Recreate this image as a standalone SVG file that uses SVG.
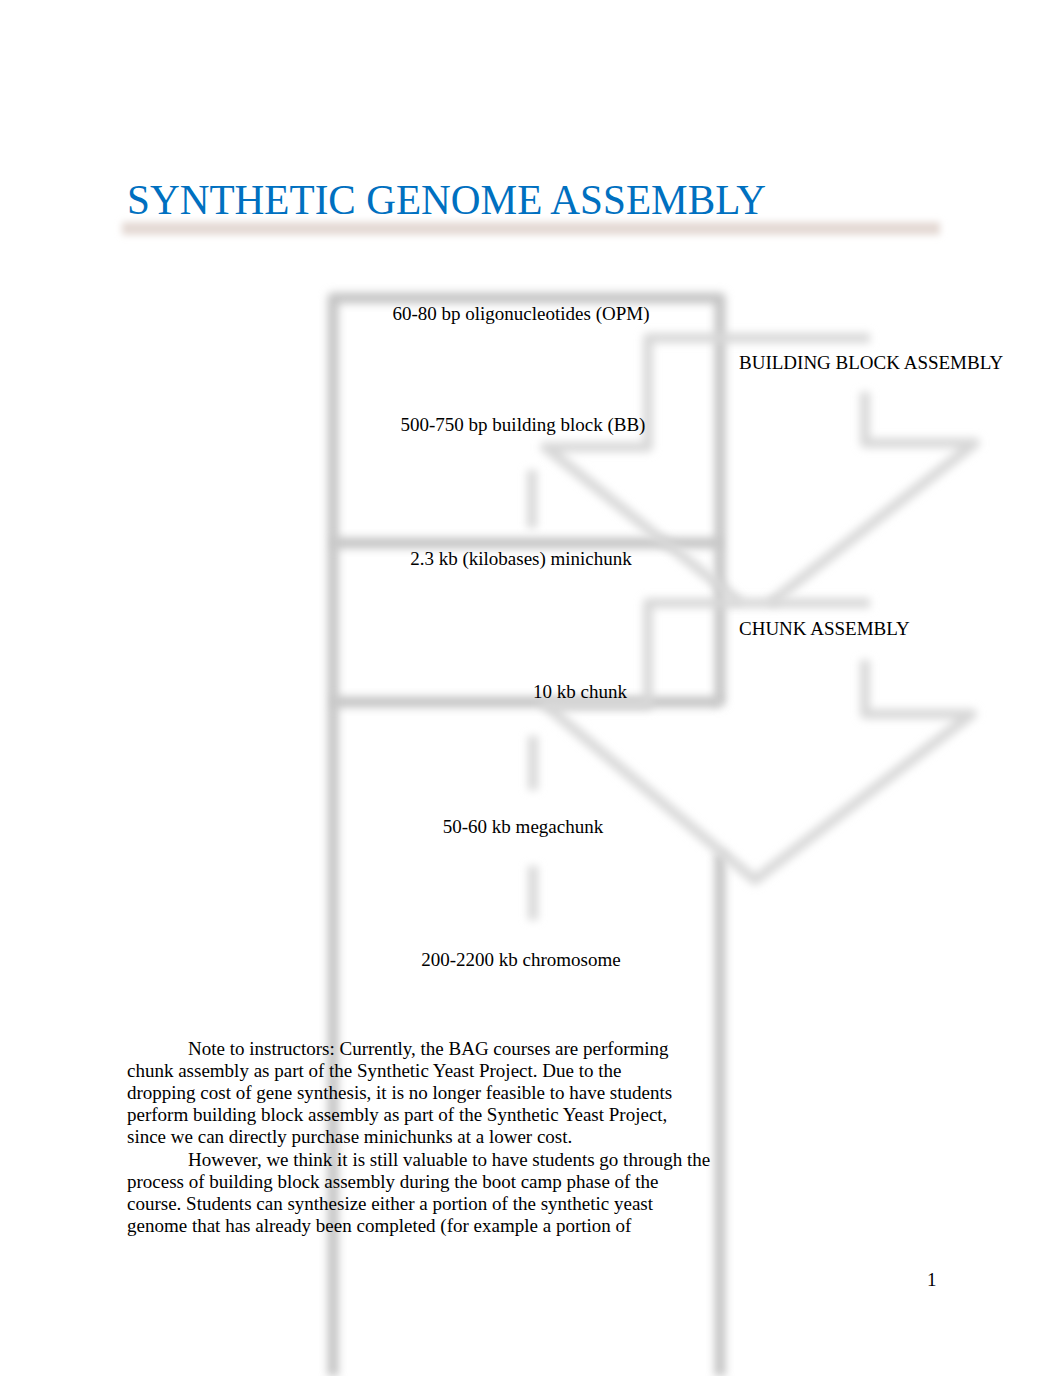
<svg xmlns="http://www.w3.org/2000/svg" width="1062" height="1376" viewBox="0 0 1062 1376">
<defs>
<filter id="blur" filterUnits="userSpaceOnUse" x="0" y="0" width="1062" height="1376"><feGaussianBlur stdDeviation="4"/></filter>
<filter id="blurBar" filterUnits="userSpaceOnUse" x="0" y="150" width="1062" height="150"><feGaussianBlur stdDeviation="3.5"/></filter>
<style>
.sh{fill:none;stroke:#c4c4c4;stroke-width:11;stroke-linejoin:round;stroke-linecap:butt;filter:url(#blur)}
.shl{fill:none;stroke:#d8d8d8;stroke-width:10;stroke-linejoin:round;filter:url(#blur)}
.t{font-family:"Liberation Serif","Times New Roman",serif;font-size:19px;fill:#000}
.title{font-family:"Liberation Serif","Times New Roman",serif;font-size:42px;fill:#0070C0}
</style>
</defs>
<rect width="1062" height="1376" fill="#fff"/>
<rect x="122" y="222" width="818" height="13" fill="#e4d9d4" filter="url(#blurBar)"/>
<text class="title" x="127" y="214" textLength="639" lengthAdjust="spacingAndGlyphs">SYNTHETIC GENOME ASSEMBLY</text>

<g id="frame">
<path class="sh" d="M333 1376 V298 H720 V705"/>
<path class="sh" d="M333 543 H720"/>
<path class="sh" d="M333 702 H720"/>
<path class="sh" d="M720 853 V1376"/>
</g>

<g id="bb-assembly-arrow">
<path class="shl" d="M870 338 H648 V447 H545 L740 602"/>
<path class="shl" d="M865 392 V443 H975 L770 603"/>
</g>
<g id="chunk-assembly-arrow">
<path class="shl" d="M870 603 H648 V705 H545 L755 880 L972 714 H865 V660"/>
</g>

<g id="connectors">
<path class="shl" d="M532 470 V528"/>
<path class="shl" d="M533 736 V790"/>
<path class="shl" d="M533 866 V920"/>
</g>

<g id="node-opm"><text class="t" x="521" y="320" text-anchor="middle">60-80 bp oligonucleotides (OPM)</text></g>
<g id="node-bb"><text class="t" x="523" y="431" text-anchor="middle">500-750 bp building block (BB)</text></g>
<g id="node-minichunk"><text class="t" x="521" y="565" text-anchor="middle">2.3 kb (kilobases) minichunk</text></g>
<g id="node-chunk"><text class="t" x="580" y="698" text-anchor="middle">10 kb chunk</text></g>
<g id="node-megachunk"><text class="t" x="523" y="833" text-anchor="middle">50-60 kb megachunk</text></g>
<g id="node-chromosome"><text class="t" x="521" y="966" text-anchor="middle">200-2200 kb chromosome</text></g>
<g id="label-bb-assembly"><text class="t" x="739" y="369">BUILDING BLOCK ASSEMBLY</text></g>
<g id="label-chunk-assembly"><text class="t" x="739" y="635">CHUNK ASSEMBLY</text></g>

<g id="note">
<text class="t" x="188" y="1055">Note to instructors: Currently, the BAG courses are performing</text>
<text class="t" x="127" y="1077">chunk assembly as part of the Synthetic Yeast Project. Due to the</text>
<text class="t" x="127" y="1099">dropping cost of gene synthesis, it is no longer feasible to have students</text>
<text class="t" x="127" y="1121">perform building block assembly as part of the Synthetic Yeast Project,</text>
<text class="t" x="127" y="1143">since we can directly purchase minichunks at a lower cost.</text>
<text class="t" x="188" y="1166">However, we think it is still valuable to have students go through the</text>
<text class="t" x="127" y="1188">process of building block assembly during the boot camp phase of the</text>
<text class="t" x="127" y="1210">course. Students can synthesize either a portion of the synthetic yeast</text>
<text class="t" x="127" y="1232">genome that has already been completed (for example a portion of</text>
</g>
<text class="t" x="927" y="1286">1</text>
</svg>
